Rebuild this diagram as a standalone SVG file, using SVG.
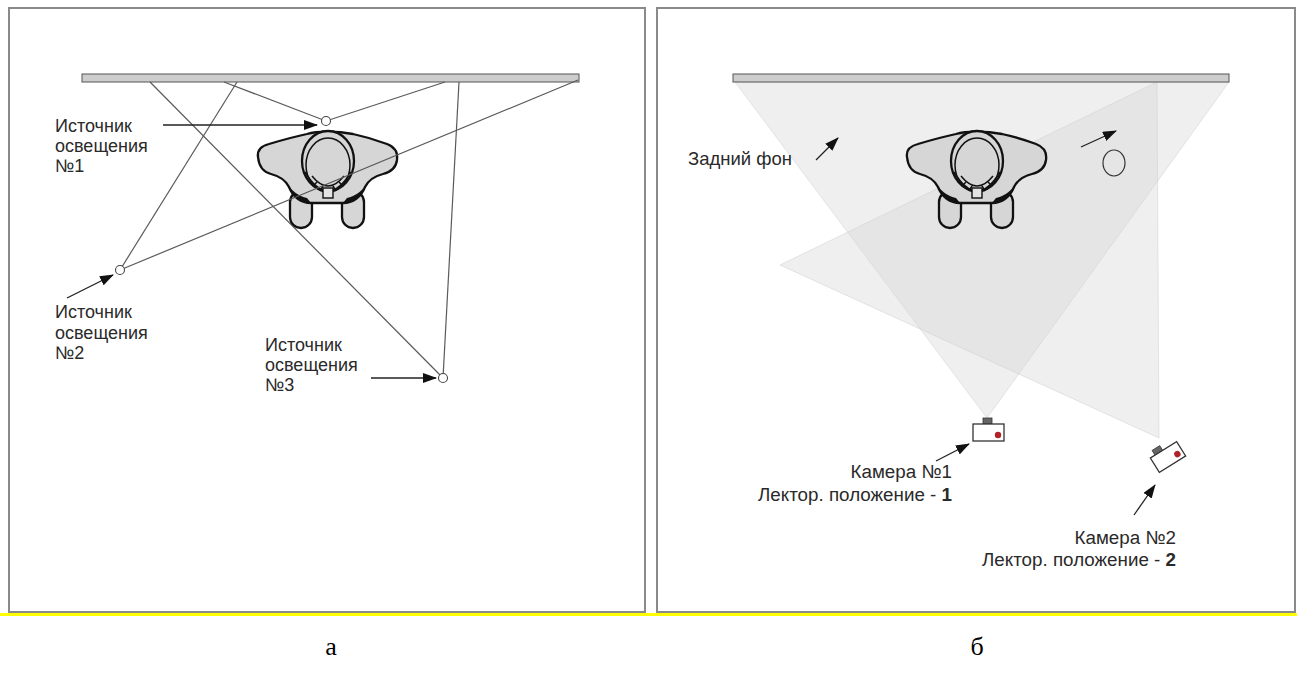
<svg xmlns="http://www.w3.org/2000/svg" width="1303" height="675" viewBox="0 0 1303 675">
  <defs>
    <style>
      .frame { fill: #ffffff; stroke: #8a8a8a; stroke-width: 2; }
      .wall { fill: #cdcdcd; stroke: #555555; stroke-width: 1; }
      .ray { fill: none; stroke: #5a5a5a; stroke-width: 1.2; }
      .lamp { fill: #ffffff; stroke: #444444; stroke-width: 1.1; }
      .ptr { fill: none; stroke: #222222; stroke-width: 1.3; marker-end: url(#head); }
      .lbl { font-family: "Liberation Sans", Arial, sans-serif; fill: #2a2a2a; }
      .l18 { font-size: 18px; }
      .l19 { font-size: 18.8px; }
      .cap { font-family: "Liberation Serif", "Times New Roman", serif; font-size: 26px; fill: #000000; text-anchor: middle; }
      .body { fill: #d6d6d6; stroke: #111111; stroke-width: 2.3; stroke-linejoin: round; }
      .thin { fill: none; stroke: #111111; stroke-width: 1.5; }
      .view { fill: #d6d6d6; fill-opacity: 0.38; stroke: #d0d0d0; stroke-opacity: 0.5; stroke-width: 1; }
      .cam { fill: #ffffff; stroke: #333333; stroke-width: 1.3; }
      .bump { fill: #666666; stroke: #333333; stroke-width: 0.8; }
      .led { fill: #b0222a; }
    </style>
    <marker id="head" markerUnits="userSpaceOnUse" markerWidth="14" markerHeight="10" refX="13" refY="5" orient="auto">
      <path d="M0,0 L14,5 L0,10 Z" fill="#111111"/>
    </marker>
    <!-- top view of a standing person -->
    <g id="person">
      <rect class="body" x="-37" y="26" width="22" height="37" rx="11"/>
      <rect class="body" x="15" y="26" width="22" height="37" rx="11"/>
      <path class="body" d="M -69,-8 C -70,-15 -66,-19 -58,-21 C -48,-24 -34,-28 -20,-31 C -10,-34 10,-34 26,-31 C 40,-28 52,-24 60,-21 C 68,-18 71,-12 70,-5 C 69,3 64,7 56,9 C 48,11 42,14 38,22 C 34,32 26,38 16,38 L -16,38 C -26,38 -34,32 -38,22 C -42,14 -48,11 -56,9 C -64,7 -68,2 -69,-8 Z"/>
      <path d="M -38,22 C -34,32 -26,38 -16,38 L -20,33 C -28,31 -33,27 -38,22 Z" fill="#111111"/>
      <path d="M 38,22 C 34,32 26,38 16,38 L 20,33 C 28,31 33,27 38,22 Z" fill="#111111"/>
      <ellipse class="body" cx="1" cy="-4" rx="26" ry="30"/>
      <ellipse class="thin" cx="1" cy="0" rx="22" ry="27"/>
      <path class="thin" d="M -22,7 Q 1,45 24,7"/>
      <path class="thin" d="M -15,11 Q 1,31 17,11"/>
      <path class="thin" d="M -14,21 L -10,17 M -7,26 L -4,21 M 9,26 L 6,21 M 16,21 L 12,17"/>
      <rect x="-4" y="23" width="10" height="10" fill="#e4e4e4" stroke="#111111" stroke-width="1.4"/>
    </g>
  </defs>

  <rect x="0" y="0" width="1303" height="675" fill="#ffffff"/>

  <!-- panel frames -->
  <rect id="frame-a" class="frame" x="9" y="8" width="636" height="604"/>
  <rect id="frame-b" class="frame" x="657" y="8" width="638" height="604"/>
  <line x1="0" y1="614.5" x2="1297" y2="614.5" stroke="#ffff00" stroke-width="3"/>

  <!-- ===== panel a: lighting ===== -->
  <g id="wall-a"><rect class="wall" x="82" y="74" width="497" height="8"/></g>

  <g id="connectors-a">
    <line class="ray" x1="150" y1="82" x2="443" y2="378"/>
    <line class="ray" x1="459" y1="82" x2="443" y2="378"/>
    <line class="ray" x1="237" y1="82" x2="120" y2="270"/>
    <line class="ray" x1="224" y1="82" x2="326" y2="121"/>
    <line class="ray" x1="445" y1="82" x2="326" y2="121"/>
  </g>

  <g id="person-a"><use href="#person" transform="translate(327,165)"/></g>

  <g id="connectors-a-top">
    <line class="ray" x1="120" y1="270" x2="578" y2="80"/>
  </g>

  <g id="lamp-1">
    <circle class="lamp" cx="326" cy="121" r="4.5"/>
    <text class="lbl l18" x="55" y="132">Источник</text>
    <text class="lbl l18" x="55" y="152">освещения</text>
    <text class="lbl l18" x="55" y="172">№1</text>
  </g>
  <g id="lamp-2">
    <circle class="lamp" cx="120" cy="270" r="4.5"/>
    <text class="lbl l18" x="55" y="318">Источник</text>
    <text class="lbl l18" x="55" y="339">освещения</text>
    <text class="lbl l18" x="55" y="359">№2</text>
  </g>
  <g id="lamp-3">
    <circle class="lamp" cx="443" cy="378" r="4.5"/>
    <text class="lbl l18" x="265" y="351">Источник</text>
    <text class="lbl l18" x="265" y="371">освещения</text>
    <text class="lbl l18" x="265" y="391">№3</text>
  </g>

  <g id="pointers-a">
    <line class="ptr" x1="163" y1="125" x2="317" y2="125"/>
    <line class="ptr" x1="67" y1="298" x2="113" y2="275"/>
    <line class="ptr" x1="371" y1="378" x2="436" y2="378"/>
  </g>

  <!-- ===== panel b: cameras ===== -->
  <g id="views-b">
    <polygon class="view" points="735,82 1229,82 987,418"/>
    <polygon class="view" points="1157,82 1159,438 780,265"/>
  </g>

  <g id="wall-b"><rect class="wall" x="733" y="74" width="496" height="8"/></g>

  <g id="person-b"><use href="#person" transform="translate(976,165)"/></g>

  <g id="background-mark">
    <ellipse cx="1114" cy="163" rx="11" ry="13" fill="none" stroke="#333333" stroke-width="1.2"/>
    <text class="lbl" font-size="18.5" x="688" y="165">Задний фон</text>
  </g>

  <g id="camera-1">
    <rect class="bump" x="983" y="418" width="9" height="6"/>
    <rect class="cam" x="973" y="424" width="31" height="17"/>
    <circle class="led" cx="998" cy="435" r="3.2"/>
    <text class="lbl l19" x="952" y="478" text-anchor="end">Камера №1</text>
    <text class="lbl l19" x="952" y="501" text-anchor="end">Лектор. положение - <tspan font-weight="bold">1</tspan></text>
  </g>

  <g id="camera-2">
    <g transform="translate(1168,457) rotate(-32)">
      <rect class="bump" x="-10" y="-14" width="9" height="6"/>
      <rect class="cam" x="-15.5" y="-8.5" width="31" height="17"/>
      <circle class="led" cx="9.5" cy="2.5" r="3.2"/>
    </g>
    <text class="lbl l19" x="1176" y="544" text-anchor="end">Камера №2</text>
    <text class="lbl l19" x="1176" y="566" text-anchor="end">Лектор. положение - <tspan font-weight="bold">2</tspan></text>
  </g>

  <g id="pointers-b">
    <line class="ptr" x1="816" y1="160" x2="838" y2="138"/>
    <line class="ptr" x1="1081" y1="147" x2="1116" y2="131"/>
    <line class="ptr" x1="936" y1="461" x2="969" y2="444"/>
    <line class="ptr" x1="1134" y1="515" x2="1155" y2="485"/>
  </g>

  <!-- panel captions -->
  <text class="cap" x="331" y="655">а</text>
  <text class="cap" x="977" y="655">б</text>
</svg>
